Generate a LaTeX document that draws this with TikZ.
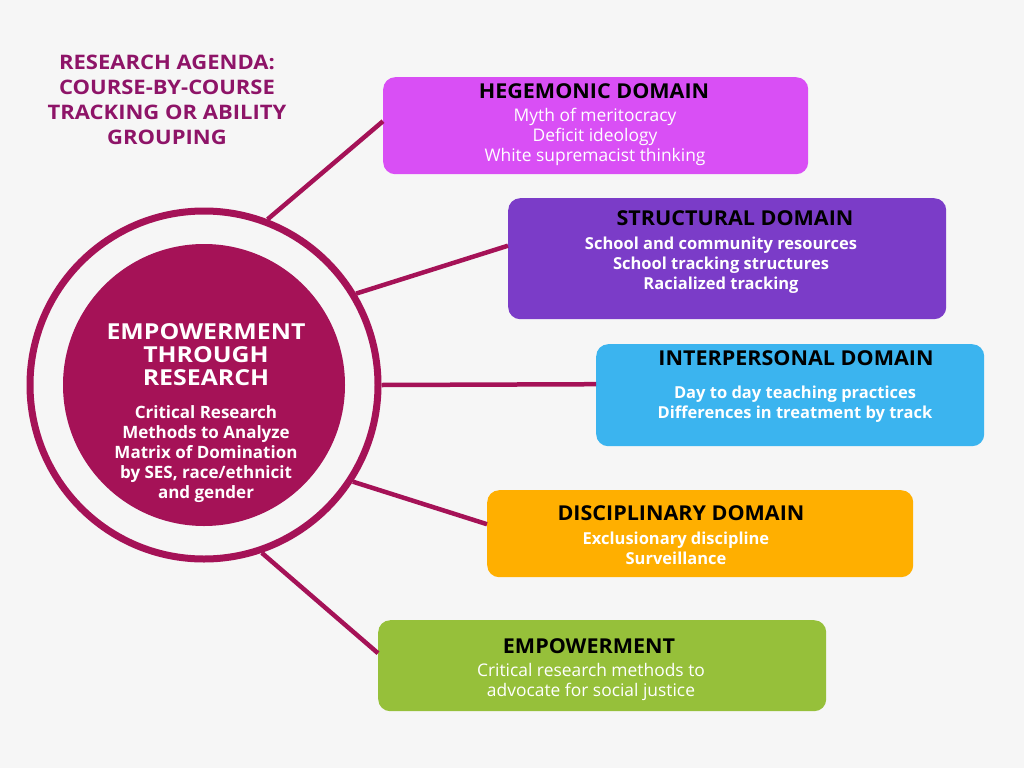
\documentclass[tikz,border=0pt]{standalone}
\usepackage{fontspec}
\setmainfont{Open Sans}
\newfontfamily\headfont{Open Sans}[FakeStretch=1.05]
\newfontfamily\hubfont{Open Sans}[FakeStretch=1.13]
\newfontfamily\titlefont{Open Sans}[FakeStretch=1.1]
\usetikzlibrary{calc}
\definecolor{bgcol}{HTML}{F6F6F6}
\definecolor{maroon}{HTML}{A51257}
\definecolor{titlecol}{HTML}{8E1468}
\definecolor{hegcol}{HTML}{D94FF5}
\definecolor{strcol}{HTML}{7B3CC8}
\definecolor{intcol}{HTML}{3BB4EF}
\definecolor{discol}{HTML}{FFAF00}
\definecolor{empcol}{HTML}{96C03A}
\tikzset{
  domainbox/.style={rounded corners=12pt, draw=none, inner sep=0pt, anchor=north west},
  head/.style={font=\headfont\fontsize{20.5}{22}\selectfont\bfseries, text=black, inner sep=0pt},
  body/.style={font=\fontsize{17.4}{20}\selectfont, text=white, align=center, inner sep=0pt, anchor=north},
  bodybold/.style={body, font=\fontsize{16.5}{20}\selectfont\bfseries},
  link/.style={draw=maroon, line width=4.5pt},
}
\begin{document}
\begin{tikzpicture}[x=1pt,y=-1pt]
  % canvas
  \fill[bgcol] (0,0) rectangle (1024,768);
  \useasboundingbox (0,0) rectangle (1024,768);

  % heading in the upper left corner
  \node[font=\titlefont\fontsize{20}{25}\selectfont\bfseries, text=titlecol, align=center, inner sep=0pt, anchor=north]
    (title) at (167,55) {RESEARCH AGENDA:\\COURSE-BY-COURSE\\TRACKING OR ABILITY\\GROUPING};

  % central hub: outer ring and filled disc
  \node[circle, draw=maroon, line width=7pt, minimum size=348pt, inner sep=0pt] (ring) at (204,385) {};
  \node[circle, fill=maroon, minimum size=282pt, inner sep=0pt] (hub) at (204,385) {};
  \node[font=\hubfont\fontsize{22}{23}\selectfont\bfseries, text=white, align=center, inner sep=0pt, anchor=north]
    (hubhead) at (206,323) {EMPOWERMENT\\THROUGH\\RESEARCH};
  \node[bodybold, font=\fontsize{17}{20}\selectfont\bfseries] (hubbody) at (206,405)
    {Critical Research\\Methods to Analyze\\Matrix of Domination\\by SES, race/ethnicit\\and gender};

  % domain boxes
  \node[domainbox, fill=hegcol, minimum width=425pt, minimum height=97pt] (heg) at (383,77) {};
  \node[domainbox, fill=strcol, minimum width=438pt, minimum height=121pt] (str) at (508,198) {};
  \node[domainbox, fill=intcol, minimum width=388pt, minimum height=102pt] (int) at (596,344) {};
  \node[domainbox, fill=discol, minimum width=426pt, minimum height=87pt] (dis) at (487,490) {};
  \node[domainbox, fill=empcol, minimum width=448pt, minimum height=91pt] (emp) at (378,620) {};

  % box contents
  \node[head] (hegh) at (594,91) {HEGEMONIC DOMAIN};
  \node[body] (hegb) at (595,108) {Myth of meritocracy\\Deficit ideology\\White supremacist thinking};

  \node[head] (strh) at (735,218) {STRUCTURAL DOMAIN};
  \node[bodybold] (strb) at (721,237) {School and community resources\\School tracking structures\\Racialized tracking};

  \node[head] (inth) at (796,358) {INTERPERSONAL DOMAIN};
  \node[bodybold] (intb) at (795,386) {Day to day teaching practices\\Differences in treatment by track};

  \node[head] (dish) at (681,513) {DISCIPLINARY DOMAIN};
  \node[bodybold] (disb) at (676,532) {Exclusionary discipline\\Surveillance};

  \node[head] (emph) at (589,646) {EMPOWERMENT};
  \node[body] (empb) at (591,663) {Critical research methods to\\advocate for social justice};

  % attachment points on the box edges
  \coordinate (hegin) at ([yshift=4.5pt]heg.west);
  \coordinate (strin) at ([yshift=13pt]str.west);
  \coordinate (intin) at ([yshift=11pt]int.west);
  \coordinate (disin) at ([yshift=9.5pt]dis.west);
  \coordinate (empin) at ([yshift=12.5pt]emp.west);

  % spokes from the ring to each domain
  \draw[link] (ring.69) -- (hegin);
  \draw[link] (ring.31) -- (strin);
  \draw[link] (ring.0) -- (intin);
  \draw[link] (ring.-33) -- (disin);
  \draw[link] (ring.-71) -- (empin);
\end{tikzpicture}
\end{document}
